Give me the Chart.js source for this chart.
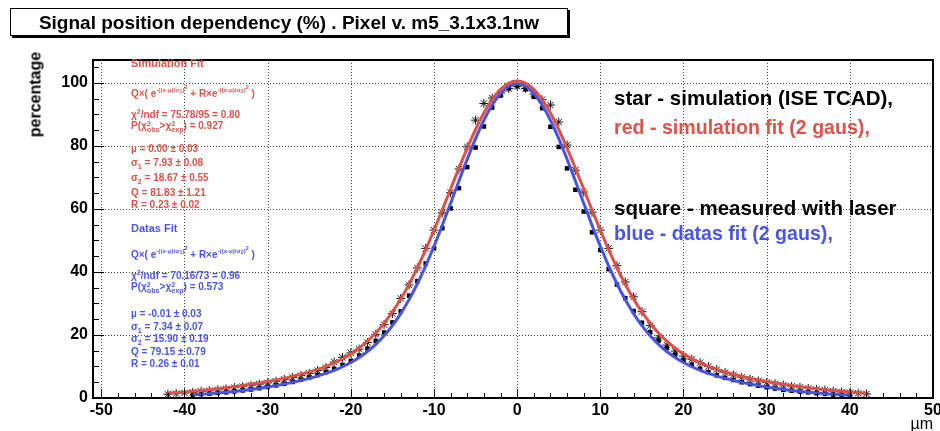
<!DOCTYPE html>
<html>
<head>
<meta charset="utf-8">
<script src="https://cdn.jsdelivr.net/npm/chart.js@4.4.1/dist/chart.umd.min.js"></script>
<style>
html,body{margin:0;padding:0;background:#fff;}
#wrap{position:relative;width:940px;height:431px;overflow:hidden;font-family:"Liberation Sans",Arial,Helvetica,sans-serif;}
#c{position:absolute;left:0;top:0;}
.t{position:absolute;white-space:nowrap;font-weight:bold;line-height:1;}
.r{color:#d9544b;}
.b{color:#4b55e3;}
.sm{font-size:10px;}
.ss{display:inline-block;vertical-align:-0.45em;line-height:0.85;font-size:0.72em;}
.ss span{display:block;}
sup,sub{font-size:0.7em;line-height:0;}
.fx sup{font-size:0.62em;vertical-align:0.9em;}
.fx sup sup{font-size:0.85em;vertical-align:0.5em;}
.fx sup sub{font-size:0.85em;vertical-align:-0.2em;}
#title{position:absolute;left:10px;top:8px;width:556px;height:26px;border:1px solid #000;box-shadow:2px 2px 0 #000;background:#fff;text-align:center;font-weight:bold;font-size:19px;line-height:27px;}
#ylab{position:absolute;left:-10px;top:86px;width:90px;height:17px;line-height:17px;text-align:center;font-weight:bold;font-size:16px;transform:rotate(-90deg);}
#xlab{position:absolute;right:7px;top:416px;font-size:16px;line-height:1;}
</style>
</head>
<body>
<div id="wrap">
<canvas id="c" width="940" height="431" style="width:940px;height:431px"></canvas>
<div id="title">Signal position dependency (%) . Pixel v. m5_3.1x3.1nw</div>
<div id="ylab">percentage</div>
<div id="xlab">µm</div>

<div class="t r" style="left:131px;top:58px;font-size:11px">Simulation Fit</div>
<div class="t r sm fx" style="left:131px;top:87px">Q×( e<sup>-((x-µ)/σ<sub>1</sub>)<sup>2</sup></sup> + R×e<sup>-((x-µ)/σ<sub>2</sub>)<sup>2</sup></sup> )</div>
<div class="t r sm" style="left:131px;top:110px">χ<sup>2</sup>/ndf = 75.78/95 = 0.80</div>
<div class="t r sm" style="left:131px;top:121px">P(χ<span class="ss"><span>2</span><span>obs</span></span>&gt;χ<span class="ss"><span>2</span><span>exp</span></span>) = 0.927</div>
<div class="t r sm" style="left:131px;top:144px">µ = 0.00 ± 0.03</div>
<div class="t r sm" style="left:131px;top:158px">σ<sub>1</sub> = 7.93 ± 0.08</div>
<div class="t r sm" style="left:131px;top:173px">σ<sub>2</sub> = 18.67 ± 0.55</div>
<div class="t r sm" style="left:131px;top:188px">Q = 81.83 ± 1.21</div>
<div class="t r sm" style="left:131px;top:200px">R = 0.23 ± 0.02</div>

<div class="t b" style="left:131px;top:223px;font-size:11px">Datas Fit</div>
<div class="t b sm fx" style="left:131px;top:248px">Q×( e<sup>-((x-µ)/σ<sub>1</sub>)<sup>2</sup></sup> + R×e<sup>-((x-µ)/σ<sub>2</sub>)<sup>2</sup></sup> )</div>
<div class="t b sm" style="left:131px;top:271px">χ<sup>2</sup>/ndf = 70.16/73 = 0.96</div>
<div class="t b sm" style="left:131px;top:282px">P(χ<span class="ss"><span>2</span><span>obs</span></span>&gt;χ<span class="ss"><span>2</span><span>exp</span></span>) = 0.573</div>
<div class="t b sm" style="left:131px;top:309px">µ = -0.01 ± 0.03</div>
<div class="t b sm" style="left:131px;top:322px">σ<sub>1</sub> = 7.34 ± 0.07</div>
<div class="t b sm" style="left:131px;top:334px">σ<sub>2</sub> = 15.90 ± 0.19</div>
<div class="t b sm" style="left:131px;top:347px">Q = 79.15 ± 0.79</div>
<div class="t b sm" style="left:131px;top:359px">R = 0.26 ± 0.01</div>

<div class="t" style="left:614px;top:88px;font-size:20.5px;color:#000">star - simulation (ISE TCAD),</div>
<div class="t r" style="left:614px;top:118px;font-size:19.6px">red - simulation fit (2 gaus),</div>
<div class="t" style="left:614px;top:198px;font-size:20.5px;color:#000">square - measured with laser</div>
<div class="t b" style="left:614px;top:224px;font-size:19.6px">blue - datas fit (2 gaus),</div>
</div>

<script>
// ---- data ----
const redFitX = [-42,-41,-40,-39,-38,-37,-36,-35,-34,-33,-32,-31,-30,-29,-28,-27,-26,-25,-24,-23,-22,-21,-20,-19,-18,-17,-16,-15,-14,-13,-12,-11,-10,-9,-8,-7,-6,-5,-4,-3,-2,-1,0,1,2,3,4,5,6,7,8,9,10,11,12,13,14,15,16,17,18,19,20,21,22,23,24,25,26,27,28,29,30,31,32,33,34,35,36,37,38,39,40,41,42];
const redFitY = [1.50,1.69,1.90,2.12,2.37,2.64,2.93,3.25,3.59,3.96,4.36,4.78,5.24,5.73,6.27,6.86,7.52,8.25,9.08,10.03,11.14,12.45,14.01,15.85,18.05,20.66,23.73,27.31,31.43,36.12,41.35,47.09,53.26,59.73,66.36,72.97,79.33,85.24,90.45,94.76,97.98,99.98,100.65,99.98,97.98,94.76,90.45,85.24,79.33,72.97,66.36,59.73,53.26,47.09,41.35,36.12,31.43,27.31,23.73,20.66,18.05,15.85,14.01,12.45,11.14,10.03,9.08,8.25,7.52,6.86,6.27,5.73,5.24,4.78,4.36,3.96,3.59,3.25,2.93,2.64,2.37,2.12,1.90,1.69,1.50];

const blueFitX = [-39,-38,-37,-36,-35,-34,-33,-32,-31,-30,-29,-28,-27,-26,-25,-24,-23,-22,-21,-20,-19,-18,-17,-16,-15,-14,-13,-12,-11,-10,-9,-8,-7,-6,-5,-4,-3,-2,-1,0,1,2,3,4,5,6,7,8,9,10,11,12,13,14,15,16,17,18,19,20,21,22,23,24,25,26,27,28,29,30,31,32,33,34,35,36,37,38,39,40];
const blueFitY = [1.02,1.18,1.37,1.59,1.82,2.09,2.39,2.72,3.09,3.49,3.93,4.42,4.96,5.55,6.22,6.96,7.81,8.79,9.92,11.26,12.85,14.76,17.03,19.76,23.00,26.80,31.23,36.28,41.95,48.17,54.86,61.83,68.91,75.83,82.35,88.17,93.02,96.68,98.96,99.73,98.96,96.68,93.02,88.17,82.35,75.83,68.91,61.83,54.86,48.17,41.95,36.28,31.23,26.80,23.00,19.76,17.03,14.76,12.85,11.26,9.92,8.79,7.81,6.96,6.22,5.55,4.96,4.42,3.93,3.49,3.09,2.72,2.39,2.09,1.82,1.59,1.37,1.18,1.02,0.87];

const starX = [-42,-41,-40,-39,-38,-37,-36,-35,-34,-33,-32,-31,-30,-29,-28,-27,-26,-25,-24,-23,-22,-21,-20,-19,-18,-17,-16,-15,-14,-13,-12,-11,-10,-9,-8,-7,-6,-5,-4,-3,-2,-1,0,1,2,3,4,5,6,7,8,9,10,11,12,13,14,15,16,17,18,19,20,21,22,23,24,25,26,27,28,29,30,31,32,33,34,35,36,37,38,39,40,41,42];
const starY = [1.2,1.4,1.6,1.8,2.1,2.3,2.6,2.9,3.3,3.6,4.0,4.4,4.8,5.3,5.9,6.5,7.1,7.8,8.7,9.7,11.4,12.9,14.3,15.5,17.6,20.2,23.3,26.8,31.6,35.9,41.3,47.5,53.3,58.8,65.2,72.7,79.7,88.2,93.5,95.2,96.8,98.2,98.9,98.3,96.5,94.7,93.0,87.6,80.3,72.3,65.4,59.0,53.3,47.5,42.0,36.8,32.1,27.4,23.0,19.1,16.8,14.9,13.3,12.3,11.2,10.0,9.0,8.1,7.3,6.6,6.0,5.4,4.9,4.5,4.1,3.7,3.4,3.0,2.7,2.5,2.2,1.9,1.7,1.5,1.3];

const squareX = [-39,-38,-37,-36,-35,-34,-33,-32,-31,-30,-29,-28,-27,-26,-25,-24,-23,-22,-21,-20,-19,-18,-17,-16,-15,-14,-13,-12,-11,-10,-9,-8,-7,-6,-5,-4,-3,-2,-1,0,1,2,3,4,5,6,7,8,9,10,11,12,13,14,15,16,17,18,19,20,21,22,23,24,25,26,27,28,29,30,31,32,33,34,35,36,37,38,39,40];
const squareY = [1.0,1.2,1.4,1.6,1.8,2.1,2.4,2.7,3.1,3.5,4.0,4.5,5.1,5.8,6.5,7.3,8.2,9.3,10.5,11.8,13.5,15.7,18.1,20.8,24.0,27.5,32.5,37.1,42.7,47.5,53.9,60.2,66.6,73.3,79.5,86.2,92.2,96.0,98.3,99.0,98.0,95.6,92.0,86.1,79.7,72.9,66.1,59.2,52.6,47.0,40.9,36.0,31.7,27.6,23.9,20.9,18.2,15.9,13.8,12.0,10.6,9.3,8.2,7.2,6.4,5.7,5.0,4.4,3.9,3.4,3.0,2.6,2.3,2.0,1.8,1.5,1.3,1.1,1.0,0.8];

const xTickLabels = [-50,-40,-30,-20,-10,0,10,20,30,40,50];
const yTickLabels = [0,20,40,60,80,100];
// --------------------------------------

const RED = '#dc5248';
const BLUE = '#4653e6';
const FONT = '"Liberation Sans", Arial, Helvetica, sans-serif';
const toXY = (xs, ys) => xs.map((x, i) => ({x: x, y: ys[i]}));

const xMinor = []; for (let v = -50; v <= 50; v += 2) xMinor.push(v);
const yMinor = []; for (let v = 0; v <= 105; v += 5) yMinor.push(v);

const rootAxes = {
  id: 'rootAxes',
  beforeDatasetsDraw(chart) {
    const {ctx, chartArea: a, scales: {x, y}} = chart;
    ctx.save();
    ctx.strokeStyle = '#444';
    ctx.lineWidth = 1;
    ctx.setLineDash([1, 2]);
    xTickLabels.forEach(v => {
      const px = Math.round(x.getPixelForValue(v)) + 0.5;
      ctx.beginPath(); ctx.moveTo(px, a.top); ctx.lineTo(px, a.bottom); ctx.stroke();
    });
    yTickLabels.forEach(v => {
      const py = Math.round(y.getPixelForValue(v)) + 0.5;
      ctx.beginPath(); ctx.moveTo(a.left, py); ctx.lineTo(a.right, py); ctx.stroke();
    });
    ctx.restore();
  },
  afterDatasetsDraw(chart) {
    const {ctx, chartArea: a, scales: {x, y}} = chart;
    ctx.save();
    ctx.strokeStyle = '#000';
    ctx.lineWidth = 1;
    xMinor.forEach(v => {
      const px = Math.round(x.getPixelForValue(v)) + 0.5;
      const len = (v % 10 === 0) ? 9 : 5;
      ctx.beginPath(); ctx.moveTo(px, a.bottom); ctx.lineTo(px, a.bottom - len); ctx.stroke();
    });
    yMinor.forEach(v => {
      const py = Math.round(y.getPixelForValue(v)) + 0.5;
      const len = (v % 20 === 0) ? 11 : 6;
      ctx.beginPath(); ctx.moveTo(a.left, py); ctx.lineTo(a.left + len, py); ctx.stroke();
    });
    ctx.lineWidth = 2;
    ctx.strokeRect(a.left, a.top, a.right - a.left, a.bottom - a.top);
    ctx.restore();
  }
};

new Chart(document.getElementById('c'), {
  type: 'scatter',
  data: {
    datasets: [
      {label: 'simulation fit', data: toXY(redFitX, redFitY), showLine: true, borderColor: RED, borderWidth: 3,
       pointRadius: 0, cubicInterpolationMode: 'monotone', fill: false},
      {label: 'datas fit', data: toXY(blueFitX, blueFitY), showLine: true, borderColor: BLUE, borderWidth: 3,
       pointRadius: 0, cubicInterpolationMode: 'monotone', fill: false},
      {label: 'simulation (ISE TCAD)', data: toXY(starX, starY), showLine: false, pointStyle: 'star',
       pointRadius: 4.5, borderColor: '#111', borderWidth: 1, backgroundColor: '#111'},
      {label: 'measured with laser', data: toXY(squareX, squareY), showLine: false, pointStyle: 'rect',
       pointRadius: 3.2, borderColor: '#000', borderWidth: 0, backgroundColor: '#000'}
    ]
  },
  options: {
    responsive: false,
    animation: false,
    devicePixelRatio: 1,
    events: [],
    layout: {padding: {left: 0, top: 60, right: 7, bottom: 0}},
    plugins: {legend: {display: false}, tooltip: {enabled: false}, title: {display: false}},
    scales: {
      x: {
        type: 'linear', min: -51, max: 50,
        afterBuildTicks: s => { s.ticks = xTickLabels.map(v => ({value: v})); },
        afterFit: s => { s.height = 33; s.paddingLeft = 0; s.paddingRight = 0; },
        grid: {display: false, drawTicks: false},
        border: {display: false},
        ticks: {font: {family: FONT, weight: 'bold', size: 16}, color: '#000', padding: 3,
                maxRotation: 0, autoSkip: false, callback: v => String(v)}
      },
      y: {
        type: 'linear', min: 0, max: 107.3,
        afterBuildTicks: s => { s.ticks = yTickLabels.map(v => ({value: v})); },
        afterFit: s => { s.width = 93; s.paddingTop = 0; s.paddingBottom = 0; },
        grid: {display: false, drawTicks: false},
        border: {display: false},
        ticks: {font: {family: FONT, weight: 'bold', size: 16}, color: '#000', padding: 5,
                autoSkip: false, callback: v => String(v)}
      }
    }
  },
  plugins: [rootAxes]
});
</script>
</body>
</html>
